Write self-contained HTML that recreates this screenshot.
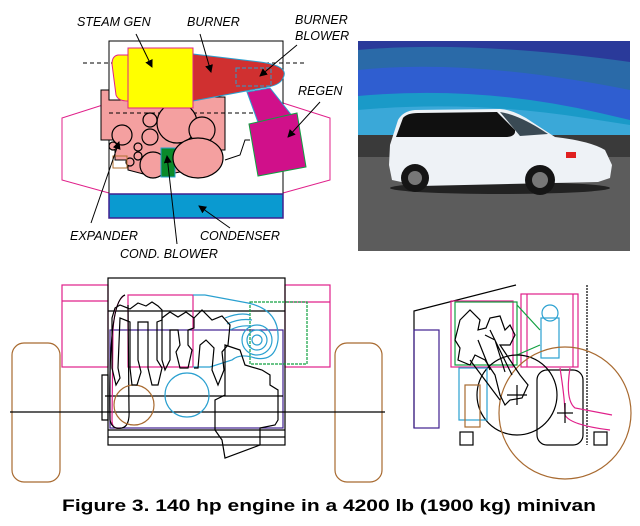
<!DOCTYPE html>
<html><head><meta charset="utf-8"><style>
html,body{margin:0;padding:0;background:#fff;}
svg{display:block}
text{font-family:"Liberation Sans",Arial,sans-serif}
</style></head><body>
<svg width="640" height="526" viewBox="0 0 640 526" xmlns="http://www.w3.org/2000/svg">
<defs>
<marker id="ah" markerWidth="8" markerHeight="8" refX="7" refY="4" orient="auto" markerUnits="userSpaceOnUse">
<path d="M0,0 L8,4 L0,8 z" fill="#000"/></marker>
<linearGradient id="gnd" x1="0" y1="0" x2="0" y2="1">
<stop offset="0" stop-color="#6a6a6a"/><stop offset="1" stop-color="#4a4a4a"/></linearGradient>
</defs>

<!-- ===== Top-left diagram ===== -->
<polyline points="109,103 62,118 62,180 109,193" fill="none" stroke="#e0208a" stroke-width="1"/>
<polyline points="283,103 330,118 330,180 283,193" fill="none" stroke="#e0208a" stroke-width="1"/>
<rect x="109" y="41" width="174" height="177" fill="none" stroke="#000" stroke-width="1"/>
<line x1="83" y1="63" x2="305" y2="63" stroke="#000" stroke-dasharray="4,3"/>
<path d="M101,90 L109,90 L109,100 L162,100 L162,97 L225,97 L225,150 L180,150 L180,172 L155,177 L128,170 L128,160 L115,160 L115,140 L101,140 Z" fill="#f4a0a0" stroke="#000" stroke-width="1"/>
<line x1="109" y1="113" x2="283" y2="113" stroke="#000" stroke-dasharray="4,3"/>
<g fill="#f4a0a0" stroke="#000" stroke-width="1.2">
<circle cx="150" cy="120" r="7"/><circle cx="169" cy="122" r="7"/>
<circle cx="177" cy="123" r="20"/><circle cx="202" cy="130" r="13"/>
<circle cx="150" cy="137" r="8"/><circle cx="122" cy="135" r="10"/>
<circle cx="153" cy="165" r="13"/><circle cx="138" cy="147" r="4"/>
<circle cx="138" cy="156" r="4"/><circle cx="113" cy="146" r="4"/>
<circle cx="130" cy="162" r="4"/>
</g>
<rect x="161" y="148" width="14" height="29" fill="#0a8a2a" stroke="#2aa0d0"/>
<ellipse cx="198" cy="158" rx="25" ry="20" fill="#f4a0a0" stroke="#000" stroke-width="1.2"/>
<rect x="113" y="156" width="14" height="12" fill="none" stroke="#b07030"/>
<polyline points="225,160 240,155 245,140 250,140" fill="none" stroke="#000"/>
<rect x="109" y="194" width="174" height="24" fill="#0a9ad0" stroke="#402090" stroke-width="1.5"/>
<polygon points="247,92 270,88 293,117 259,125" fill="#d0108a" stroke="#2aa0d0"/>
<polygon points="249,124 297,113 306,167 258,176" fill="#d0108a" stroke="#10a040" stroke-width="1"/>
<path d="M193,54 L260,62 Q290,66 283,78 Q280,86 262,88 L193,101 Z" fill="#d03030" stroke="#2aa0d0" stroke-width="1"/>
<rect x="236" y="68" width="35" height="18" fill="none" stroke="#2aa0d0" stroke-dasharray="4,2"/>
<path d="M128,55 L118,55 Q112,56 112,64 L116,95 Q118,101 128,101 Z" fill="#ffff00" stroke="#e0208a"/>
<rect x="128" y="48" width="65" height="60" fill="#ffff00" stroke="#e0208a" stroke-width="1"/>
<g font-style="italic" font-size="12.5" fill="#000">
<text x="77" y="26">STEAM GEN</text>
<text x="187" y="26">BURNER</text>
<text x="295" y="24">BURNER</text>
<text x="295" y="40">BLOWER</text>
<text x="298" y="95">REGEN</text>
<text x="70" y="240">EXPANDER</text>
<text x="200" y="240">CONDENSER</text>
<text x="120" y="258">COND. BLOWER</text>
</g>
<g stroke="#000" stroke-width="1" marker-end="url(#ah)">
<line x1="136" y1="34" x2="152" y2="67"/>
<line x1="200" y1="34" x2="211" y2="72"/>
<line x1="297" y1="45" x2="260" y2="76"/>
<line x1="320" y1="102" x2="288" y2="137"/>
<line x1="91" y1="223" x2="119" y2="142"/>
<line x1="230" y1="228" x2="199" y2="206"/>
<line x1="177" y1="244" x2="167" y2="156"/>
</g>

<!-- ===== Photo ===== -->
<rect x="358" y="41" width="272" height="210" fill="url(#gnd)"/>
<rect x="358" y="41" width="272" height="100" fill="#2a3a9a"/>
<path d="M358,50 Q470,40 630,62 L630,141 L358,141 Z" fill="#2a6aa8"/>
<path d="M358,70 Q470,58 630,90 L630,141 L358,141 Z" fill="#2f5ed0"/>
<path d="M358,96 Q480,85 600,113 L630,120 L630,141 L358,141 Z" fill="#1a9ac8"/>
<path d="M358,110 Q470,100 585,118 L630,125 L630,141 L358,141 Z" fill="#3aa8d8"/>
<rect x="358" y="135" width="272" height="22" fill="#3a3a3a"/>
<rect x="358" y="157" width="272" height="94" fill="#5c5c5c"/>
<ellipse cx="500" cy="188" rx="110" ry="6" fill="#222"/>
<!-- van -->
<path d="M390,145 L398,120 Q403,111 415,110 L500,109 Q515,110 532,122 L555,137 Q590,141 605,150 L612,165 L610,178 L598,182 L420,186 L392,180 L389,165 Z" fill="#eef2f6"/>
<path d="M396,137 L403,118 Q407,113 418,113 L497,112 L515,130 Q516,137 505,137 Z" fill="#101010"/>
<path d="M500,112 Q520,115 548,134 L520,136 Z" fill="#3a4a54"/>
<ellipse cx="415" cy="178" rx="14" ry="14" fill="#151515"/>
<circle cx="415" cy="178" r="7" fill="#777"/>
<ellipse cx="540" cy="180" rx="15" ry="15" fill="#151515"/>
<circle cx="540" cy="180" r="8" fill="#777"/>
<rect x="566" y="152" width="10" height="6" fill="#e02020"/>

<!-- ===== Bottom-left drawing ===== -->
<g fill="none" stroke-width="1.2">
<rect x="12" y="343" width="48" height="139" rx="12" stroke="#a86a30"/>
<rect x="335" y="343" width="47" height="139" rx="12" stroke="#a86a30"/>
<rect x="62" y="285" width="46" height="82" stroke="#e0208a"/>
<line x1="62" y1="301" x2="108" y2="301" stroke="#e0208a"/>
<rect x="285" y="285" width="45" height="82" stroke="#e0208a"/>
<line x1="285" y1="302" x2="330" y2="302" stroke="#e0208a"/>
<rect x="108" y="278" width="177" height="167" stroke="#000"/>
<line x1="108" y1="311" x2="285" y2="311" stroke="#000"/>
<line x1="108" y1="430" x2="285" y2="430" stroke="#000"/>
<line x1="108" y1="437" x2="285" y2="437" stroke="#000"/>
<rect x="110" y="330" width="173" height="98" stroke="#402090"/>
<line x1="10" y1="412" x2="385" y2="412" stroke="#000"/>
<line x1="105" y1="396" x2="283" y2="396" stroke="#000"/>
<rect x="128" y="295" width="65" height="72" stroke="#e0208a"/>
<path d="M125,295 Q115,300 113,330 L112,420 Q112,430 120,428" stroke="#e0208a"/>
<path d="M125,295 Q108,300 110,420 Q112,430 122,428 Q130,426 129,410 L128,305" stroke="#000"/>
<rect x="250" y="302" width="57" height="62" stroke="#10a040" stroke-dasharray="3,1"/>
<circle cx="187" cy="395" r="22" stroke="#2aa0d0"/>
<circle cx="134" cy="405" r="20" stroke="#a86a30"/>
<circle cx="257" cy="340" r="15" stroke="#2aa0d0"/>
<circle cx="257" cy="340" r="10" stroke="#2aa0d0"/>
<circle cx="257" cy="340" r="5" stroke="#2aa0d0"/>
<path d="M193,295 L205,295 L248,303 Q280,310 278,340 Q275,362 255,358 Q240,353 232,360 L210,367 L193,367" stroke="#2aa0d0"/>
<path d="M225,318 Q240,312 250,315 M227,324 Q240,318 252,320 M230,330 Q240,325 250,326" stroke="#2aa0d0"/>
<path d="M115,308 L120,305 L130,309 L138,303 L146,306 L152,302 L158,306 L162,310 L162,320 L157,322 L157,360 L162,368 L158,385 L152,385 L148,368 L148,322 L138,322 L138,360 L141,372 L137,385 L132,385 L130,368 L130,322 L120,318 L118,368 L120,378 L116,385 L112,368 L112,318 Z" stroke="#000"/>
<path d="M162,318 L170,312 L178,317 L186,312 L194,318 L194,328 L188,330 L188,345 L192,350 L188,368 L180,368 L176,352 L180,345 L178,330 L170,330 L170,360 L165,370 L162,360 Z" stroke="#000"/>
<path d="M194,318 L202,310 L212,320 L222,316 L230,325 L228,345 L222,352 L224,370 L218,385 L212,370 L214,348 L206,340 L200,345 L198,368 L194,368" stroke="#000"/>
<path d="M225,345 L240,350 L245,365 L262,370 L270,375 L270,385 L278,390 L278,420 L275,425 L260,428 L260,445 L225,458 L222,440 L215,430 L215,400 L225,395 Z" stroke="#000"/>
<path d="M102,375 L108,375 L108,420 L102,420 Z" stroke="#000"/>
</g>

<!-- ===== Bottom-right drawing ===== -->
<g fill="none" stroke-width="1.2">
<path d="M414,428 L414,311 L516,285" stroke="#000"/>
<rect x="414" y="330" width="25" height="98" stroke="#402090"/>
<rect x="451" y="301" width="62" height="66" stroke="#e0208a"/>
<rect x="455" y="302" width="62" height="63" stroke="#10a040"/>
<rect x="521" y="294" width="57" height="73" stroke="#e0208a"/>
<line x1="527" y1="294" x2="527" y2="367" stroke="#e0208a"/>
<line x1="573" y1="294" x2="573" y2="367" stroke="#e0208a"/>
<line x1="517" y1="305" x2="540" y2="330" stroke="#10a040"/>
<line x1="517" y1="355" x2="540" y2="345" stroke="#10a040"/>
<rect x="541" y="318" width="18" height="40" stroke="#2aa0d0"/>
<circle cx="550" cy="313" r="8" stroke="#2aa0d0"/>
<line x1="587" y1="285" x2="587" y2="445" stroke="#000" stroke-dasharray="2,1"/>
<circle cx="517" cy="395" r="40" stroke="#000"/>
<circle cx="565" cy="413" r="66" stroke="#a86a30"/>
<rect x="459" y="368" width="28" height="52" stroke="#2aa0d0"/>
<rect x="465" y="385" width="15" height="42" stroke="#a86a30"/>
<rect x="460" y="432" width="13" height="13" stroke="#000"/>
<rect x="594" y="432" width="13" height="13" stroke="#000"/>
<rect x="537" y="370" width="46" height="75" rx="10" stroke="#000"/>
<path d="M570,368 Q565,400 575,408 L612,415" stroke="#e0208a"/>
<path d="M560,368 Q565,400 565,415 Q570,425 610,430" stroke="#e0208a"/>
<line x1="507" y1="395" x2="527" y2="395" stroke="#000"/>
<line x1="517" y1="385" x2="517" y2="405" stroke="#000"/>
<line x1="557" y1="413" x2="573" y2="413" stroke="#000"/>
<line x1="565" y1="403" x2="565" y2="423" stroke="#000"/>
<path d="M460,320 L470,310 L480,320 L478,330 L486,328 L490,318 L500,316 L505,330 L510,325 L515,335 L510,345 L500,345 L520,375 L528,385 L522,398 L510,400 L505,405 L500,395 L495,375 L485,360 L475,355 L470,365 L458,360 L460,348 L455,340 Z" stroke="#000"/>
<path d="M478,340 L490,370 M490,330 L512,375 M485,335 L495,340 L505,372" stroke="#000"/>
<path d="M470,360 L500,400" stroke="#000"/>
</g>

<text x="62" y="511" font-size="17" font-weight="bold" textLength="534" lengthAdjust="spacingAndGlyphs">Figure 3.  140 hp engine in a 4200 lb (1900 kg) minivan</text>
</svg>
</body></html>
